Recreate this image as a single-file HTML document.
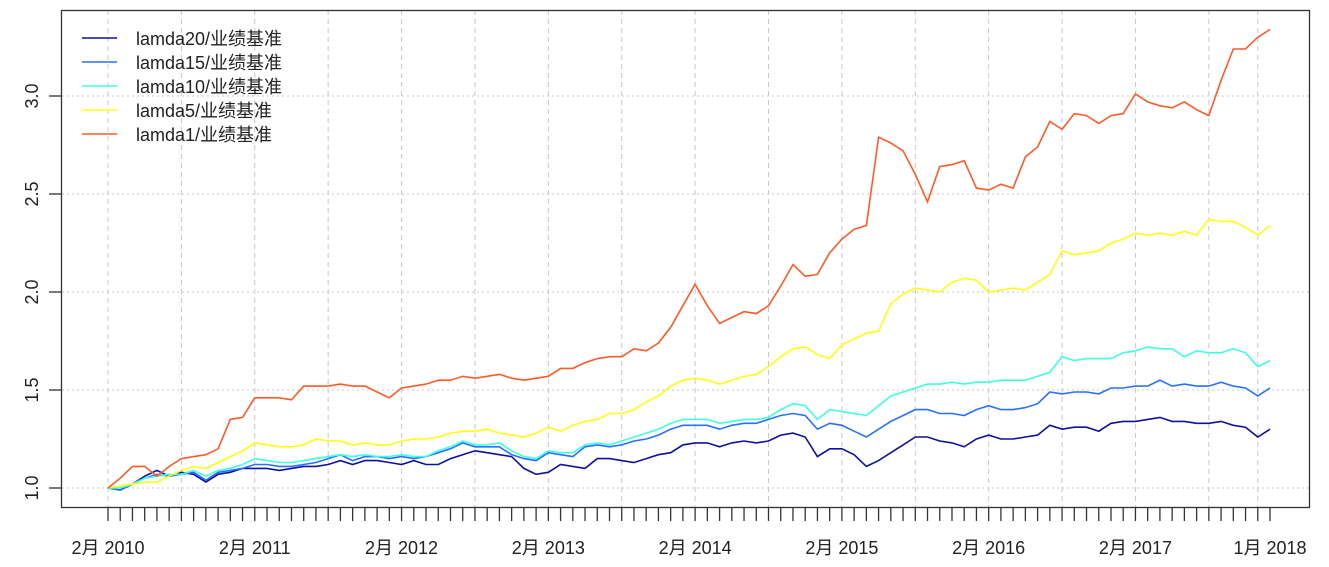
<!DOCTYPE html>
<html><head><meta charset="utf-8"><style>
body{margin:0;background:#fff;}
svg{display:block;font-family:"Liberation Sans","Noto Sans CJK SC",sans-serif;}
</style></head><body>
<svg id="chart" width="1329" height="567" viewBox="0 0 1329 567" xmlns="http://www.w3.org/2000/svg"></svg>
<script>
const seriesNames=["lamda20/业绩基准","lamda15/业绩基准","lamda10/业绩基准","lamda5/业绩基准","lamda1/业绩基准"];
const seriesColors=["#1010a0","#2a70ff","#40ffe0","#ffff10","#ff5a28"];
const lamda20=[1.00,0.99,1.02,1.06,1.09,1.06,1.08,1.07,1.03,1.07,1.08,1.10,
1.10,1.10,1.09,1.10,1.11,1.11,1.12,1.14,1.12,1.14,1.14,1.13,
1.12,1.14,1.12,1.12,1.15,1.17,1.19,1.18,1.17,1.16,1.10,1.07,
1.08,1.12,1.11,1.10,1.15,1.15,1.14,1.13,1.15,1.17,1.18,1.22,
1.23,1.23,1.21,1.23,1.24,1.23,1.24,1.27,1.28,1.26,1.16,1.20,
1.20,1.17,1.11,1.14,1.18,1.22,1.26,1.26,1.24,1.23,1.21,1.25,
1.27,1.25,1.25,1.26,1.27,1.32,1.30,1.31,1.31,1.29,1.33,1.34,
1.34,1.35,1.36,1.34,1.34,1.33,1.33,1.34,1.32,1.31,1.26,1.30];
const lamda15=[1.00,0.99,1.02,1.05,1.07,1.06,1.07,1.08,1.04,1.08,1.09,1.10,
1.12,1.12,1.11,1.11,1.12,1.13,1.15,1.17,1.14,1.16,1.16,1.15,
1.16,1.15,1.16,1.18,1.20,1.23,1.21,1.21,1.21,1.17,1.15,1.14,
1.18,1.17,1.16,1.21,1.22,1.21,1.22,1.24,1.25,1.27,1.30,1.32,
1.32,1.32,1.30,1.32,1.33,1.33,1.35,1.37,1.38,1.37,1.30,1.33,
1.32,1.29,1.26,1.30,1.34,1.37,1.40,1.40,1.38,1.38,1.37,1.40,
1.42,1.40,1.40,1.41,1.43,1.49,1.48,1.49,1.49,1.48,1.51,1.51,
1.52,1.52,1.55,1.52,1.53,1.52,1.52,1.54,1.52,1.51,1.47,1.51];
const lamda10=[1.00,1.00,1.02,1.05,1.06,1.07,1.07,1.09,1.06,1.09,1.10,1.12,
1.15,1.14,1.13,1.13,1.14,1.15,1.16,1.17,1.16,1.17,1.16,1.16,
1.17,1.16,1.16,1.19,1.21,1.24,1.22,1.22,1.23,1.19,1.16,1.15,
1.19,1.18,1.18,1.22,1.23,1.22,1.24,1.26,1.28,1.30,1.33,1.35,
1.35,1.35,1.33,1.34,1.35,1.35,1.36,1.40,1.43,1.42,1.35,1.40,
1.39,1.38,1.37,1.42,1.47,1.49,1.51,1.53,1.53,1.54,1.53,1.54,
1.54,1.55,1.55,1.55,1.57,1.59,1.67,1.65,1.66,1.66,1.66,1.69,
1.70,1.72,1.71,1.71,1.67,1.70,1.69,1.69,1.71,1.69,1.62,1.65];
const lamda5=[1.00,1.01,1.02,1.03,1.03,1.06,1.09,1.11,1.10,1.13,1.16,1.19,
1.23,1.22,1.21,1.21,1.22,1.25,1.24,1.24,1.22,1.23,1.22,1.22,
1.24,1.25,1.25,1.26,1.28,1.29,1.29,1.30,1.28,1.27,1.26,1.28,
1.31,1.29,1.32,1.34,1.35,1.38,1.38,1.40,1.44,1.47,1.52,1.55,
1.56,1.55,1.53,1.55,1.57,1.58,1.62,1.67,1.71,1.72,1.68,1.66,
1.73,1.76,1.79,1.80,1.94,1.99,2.02,2.01,2.00,2.05,2.07,2.06,
2.00,2.01,2.02,2.01,2.05,2.09,2.21,2.19,2.20,2.21,2.25,2.27,
2.30,2.29,2.30,2.29,2.31,2.29,2.37,2.36,2.36,2.33,2.29,2.34];
const lamda1=[1.00,1.05,1.11,1.11,1.06,1.11,1.15,1.16,1.17,1.20,1.35,1.36,
1.46,1.46,1.46,1.45,1.52,1.52,1.52,1.53,1.52,1.52,1.49,1.46,
1.51,1.52,1.53,1.55,1.55,1.57,1.56,1.57,1.58,1.56,1.55,1.56,
1.57,1.61,1.61,1.64,1.66,1.67,1.67,1.71,1.70,1.74,1.82,1.93,
2.04,1.93,1.84,1.87,1.90,1.89,1.93,2.03,2.14,2.08,2.09,2.20,
2.27,2.32,2.34,2.79,2.76,2.72,2.60,2.46,2.64,2.65,2.67,2.53,
2.52,2.55,2.53,2.69,2.74,2.87,2.83,2.91,2.90,2.86,2.90,2.91,
3.01,2.97,2.95,2.94,2.97,2.93,2.90,3.08,3.24,3.24,3.30,3.34];
const yTicks=[1.0,1.5,2.0,2.5,3.0];
const xLabels=["2月 2010","2月 2011","2月 2012","2月 2013","2月 2014","2月 2015","2月 2016","2月 2017","1月 2018"];
const xLabelIdx=[0,12,24,36,48,60,72,84,95];

const svg=document.getElementById('chart');
const NS="http://www.w3.org/2000/svg";
const N=lamda1.length;
const X0=108,X1=1270,Y1v=1.0,Y1p=488,Y3p=96;
const xs=i=>X0+(X1-X0)*i/(N-1);
const ys=v=>Y1p-(v-Y1v)*(Y1p-Y3p)/2.0;
function mk(tag,attrs,parent){const e=document.createElementNS(NS,tag);for(const k in attrs)e.setAttribute(k,attrs[k]);(parent||svg).appendChild(e);return e;}
// grid
const grid=mk('g',{});


for(const t of yTicks){const l=mk('line',{x1:62,x2:1310,y1:ys(t),y2:ys(t),stroke:'#c8c8c8','stroke-width':1,'stroke-dasharray':'2,3'},grid);

}
for(let i=0;i<N;i+=6){const l=mk('line',{x1:xs(i),x2:xs(i),y1:10,y2:508,stroke:'#c8c8c8','stroke-width':1,'stroke-dasharray':'5,4'},grid);

}
{const l=mk('line',{x1:xs(94),x2:xs(94),y1:10,y2:508,stroke:'#c8c8c8','stroke-width':1,'stroke-dasharray':'5,4'},grid);

}
// series
const all=[lamda20,lamda15,lamda10,lamda5,lamda1];
all.forEach((d,k)=>{const p=mk('polyline',{points:d.map((v,i)=>xs(i).toFixed(1)+','+ys(v).toFixed(1)).join(' '),fill:'none',stroke:seriesColors[k],'stroke-width':1.6});

});
// box
const box=mk('rect',{x:61.5,y:10.5,width:1248,height:497,fill:'none',stroke:'#333','stroke-width':1.3});


// y axis
yTicks.forEach(t=>{mk('line',{x1:49,x2:61,y1:ys(t),y2:ys(t),stroke:'#333','stroke-width':1.3});
const tx=mk('text',{x:0,y:0,transform:`translate(38,${ys(t)}) rotate(-90)`,'text-anchor':'middle','font-size':18,fill:'#222'});
tx.textContent=t.toFixed(1);

});
// x ticks
for(let i=0;i<N;i++){mk('line',{x1:xs(i),x2:xs(i),y1:508,y2:521,stroke:'#333','stroke-width':1.3});}
xLabels.forEach((s,j)=>{const tx=mk('text',{x:xs(xLabelIdx[j]),y:554,'text-anchor':'middle','font-size':18,fill:'#222'});
tx.textContent=s;

});
// legend
const lg=mk('g',{});


seriesNames.forEach((s,k)=>{const y=38+k*24;
mk('line',{x1:82,x2:117,y1:y,y2:y,stroke:seriesColors[k],'stroke-width':1.6},lg);
const tx=mk('text',{x:136,y:y+7,'font-size':18,fill:'#222'},lg);
tx.textContent=s;

});
</script>
</body></html>
